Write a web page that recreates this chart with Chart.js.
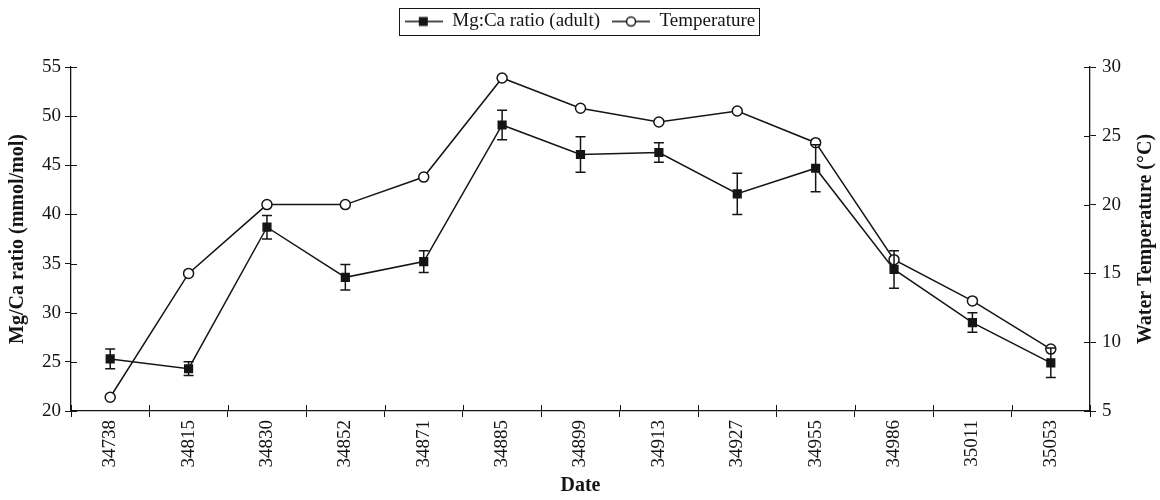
<!DOCTYPE html>
<html>
<head>
<meta charset="utf-8">
<script src="https://cdn.jsdelivr.net/npm/chart.js@4.4.1/dist/chart.umd.min.js"></script>
<style>
  html, body { margin: 0; padding: 0; background: #fff; }
  #wrap { width: 1160px; height: 500px; }
</style>
</head>
<body>
<div id="wrap"><canvas id="chart" width="1160" height="500"></canvas></div>
<script>
// data
var dates = ["34738", "34815", "34830", "34852", "34871", "34885", "34899", "34913", "34927", "34955", "34986", "35011", "35053"];
var mgCa = [25.3, 24.3, 38.7, 33.6, 35.2, 49.1, 46.1, 46.3, 42.1, 44.7, 34.4, 29.0, 24.9];
var mgCaErr = [1.0, 0.7, 1.2, 1.3, 1.1, 1.5, 1.8, 1.0, 2.1, 2.4, 1.9, 1.0, 1.5];
var temperature = [6, 15, 20, 20, 22, 29.2, 27, 26, 26.8, 24.5, 16, 13, 9.5];
var leftTicks = [20, 25, 30, 35, 40, 45, 50, 55];
var rightTicks = [5, 10, 15, 20, 25, 30];

var ink = "#151515";
var serif = "'Liberation Serif', 'Times New Roman', serif";
var rightTitle = "Water Temperature (°C)";

// small legend swatches: a line with the marker in the middle
function swatch(kind) {
    var c = document.createElement("canvas");
    c.width = 38;
    c.height = 14;
    var g = c.getContext("2d");
    g.strokeStyle = ink;
    g.lineWidth = 1.5;
    g.beginPath();
    g.moveTo(0, 7);
    g.lineTo(38, 7);
    g.stroke();
    if (kind === "rect") {
        g.fillStyle = ink;
        g.fillRect(14, 2.5, 9, 9);
    } else {
        g.fillStyle = "#fff";
        g.beginPath();
        g.arc(19, 7, 4.5, 0, Math.PI * 2);
        g.fill();
        g.stroke();
    }
    return c;
}

// legend takes extra room below it, so the plot starts lower
var legendGap = {
    id: "legendGap",
    beforeInit: function (chart) {
        var fit = chart.legend.fit;
        chart.legend.fit = function () {
            fit.bind(chart.legend)();
            this.height += 26;
        };
    }
};

// error bars on the Mg:Ca series
var errorBars = {
    id: "errorBars",
    afterDatasetsDraw: function (chart) {
        var ctx = chart.ctx;
        var xs = chart.scales.x;
        var ys = chart.scales.yL;
        ctx.save();
        ctx.strokeStyle = ink;
        ctx.lineWidth = 1.5;
        for (var i = 0; i < mgCa.length; i++) {
            var x = xs.getPixelForValue(i);
            var top = ys.getPixelForValue(mgCa[i] + mgCaErr[i]);
            var bot = ys.getPixelForValue(mgCa[i] - mgCaErr[i]);
            ctx.beginPath();
            ctx.moveTo(x, top);
            ctx.lineTo(x, bot);
            ctx.moveTo(x - 5, top);
            ctx.lineTo(x + 5, top);
            ctx.moveTo(x - 5, bot);
            ctx.lineTo(x + 5, bot);
            ctx.stroke();
        }
        ctx.restore();
    }
};

// tick marks cross the axis lines, so draw the inner half too
var innerTicks = {
    id: "innerTicks",
    afterDraw: function (chart) {
        var ctx = chart.ctx;
        var a = chart.chartArea;
        var xs = chart.scales.x;
        ctx.save();
        ctx.strokeStyle = ink;
        ctx.lineWidth = 1;
        ctx.beginPath();
        leftTicks.forEach(function (v) {
            var y = Math.round(chart.scales.yL.getPixelForValue(v)) + 0.5;
            ctx.moveTo(a.left, y);
            ctx.lineTo(a.left + 6, y);
        });
        rightTicks.forEach(function (v) {
            var y = Math.round(chart.scales.yR.getPixelForValue(v)) + 0.5;
            ctx.moveTo(a.right - 6, y);
            ctx.lineTo(a.right, y);
        });
        for (var i = 0; i <= dates.length; i++) {
            var x = Math.round(xs.getPixelForValue(i - 0.5)) + 0.5;
            ctx.moveTo(x, a.bottom - 6);
            ctx.lineTo(x, a.bottom);
        }
        ctx.stroke();
        ctx.restore();
    }
};

// frame round the legend, and the right axis title read bottom to top
var extras = {
    id: "extras",
    afterDraw: function (chart) {
        var ctx = chart.ctx;
        var boxes = chart.legend && chart.legend.legendHitBoxes;
        ctx.save();
        if (boxes && boxes.length) {
            var l = Infinity, r = -Infinity, t = Infinity, b = -Infinity;
            boxes.forEach(function (h) {
                l = Math.min(l, h.left);
                r = Math.max(r, h.left + h.width);
                t = Math.min(t, h.top);
                b = Math.max(b, h.top + h.height);
            });
            ctx.strokeStyle = ink;
            ctx.lineWidth = 1;
            ctx.strokeRect(Math.round(l - 6) + 0.5, Math.round(t - 4) + 0.5, Math.round(r - l + 10), Math.round(b - t + 8));
        }
        var a = chart.chartArea;
        ctx.translate(1146, (a.top + a.bottom) / 2);
        ctx.rotate(-Math.PI / 2);
        ctx.fillStyle = ink;
        ctx.font = "bold 20px " + serif;
        ctx.textAlign = "center";
        ctx.textBaseline = "middle";
        ctx.fillText(rightTitle, 0, 0);
        ctx.restore();
    }
};

var ctx = document.getElementById("chart").getContext("2d");
var myChart = new Chart(ctx, {
    type: "line",
    data: {
        labels: dates,
        datasets: [{
            label: "Mg:Ca ratio (adult)",
            data: mgCa,
            yAxisID: "yL",
            borderColor: ink,
            borderWidth: 1.5,
            backgroundColor: ink,
            pointStyle: "rect",
            pointRadius: 6.5,
            pointBorderWidth: 0,
            pointBackgroundColor: ink,
            fill: false,
            tension: 0
        }, {
            label: "Temperature",
            data: temperature,
            yAxisID: "yR",
            borderColor: ink,
            borderWidth: 1.5,
            backgroundColor: "#fff",
            pointStyle: "circle",
            pointRadius: 5,
            pointBorderWidth: 1.5,
            pointBackgroundColor: "#fff",
            pointBorderColor: ink,
            fill: false,
            tension: 0
        }]
    },
    options: {
        responsive: false,
        animation: false,
        layout: { padding: { left: 0, right: 0, top: 0, bottom: 0 } },
        plugins: {
            tooltip: { enabled: false },
            legend: {
                position: "top",
                labels: {
                    color: ink,
                    font: { family: serif, size: 19 },
                    usePointStyle: true,
                    pointStyleWidth: 38,
                    boxHeight: 14,
                    padding: 12,
                    generateLabels: function (chart) {
                        return chart.data.datasets.map(function (ds, i) {
                            return {
                                text: ds.label,
                                pointStyle: swatch(i === 0 ? "rect" : "circle"),
                                datasetIndex: i,
                                fontColor: ink,
                                lineWidth: 0
                            };
                        });
                    }
                }
            }
        },
        scales: {
            x: {
                offset: true,
                afterFit: function (axis) { axis.height = 89; },
                grid: { offset: true, drawOnChartArea: false, color: ink, tickLength: 6, lineWidth: 1 },
                border: { color: ink, width: 1.3 },
                ticks: {
                    color: ink,
                    font: { family: serif, size: 19 },
                    minRotation: 90,
                    maxRotation: 90,
                    autoSkip: false,
                    padding: 3
                },
                title: {
                    display: true,
                    text: "Date",
                    color: ink,
                    font: { family: serif, size: 20, weight: "bold" },
                    padding: { top: 0, bottom: 2 }
                }
            },
            yL: {
                position: "left",
                min: 20,
                max: 55,
                afterFit: function (axis) { axis.width = 71; },
                afterBuildTicks: function (axis) {
                    axis.ticks = leftTicks.map(function (v) { return { value: v }; });
                },
                grid: { drawOnChartArea: false, color: ink, tickLength: 6 },
                border: { color: ink, width: 1.3 },
                ticks: { color: ink, font: { family: serif, size: 19 }, padding: 4 },
                title: {
                    display: true,
                    text: "Mg/Ca ratio (mmol/mol)",
                    color: ink,
                    font: { family: serif, size: 20, weight: "bold" },
                    padding: { top: 6, bottom: 0 }
                }
            },
            yR: {
                position: "right",
                min: 5,
                max: 30,
                afterFit: function (axis) { axis.width = 70; },
                afterBuildTicks: function (axis) {
                    axis.ticks = rightTicks.map(function (v) { return { value: v }; });
                },
                grid: { drawOnChartArea: false, color: ink, tickLength: 6 },
                border: { color: ink, width: 1.3 },
                ticks: { color: ink, font: { family: serif, size: 19 }, padding: 6 }
            }
        }
    },
    plugins: [legendGap, errorBars, innerTicks, extras]
});
</script>
</body>
</html>
